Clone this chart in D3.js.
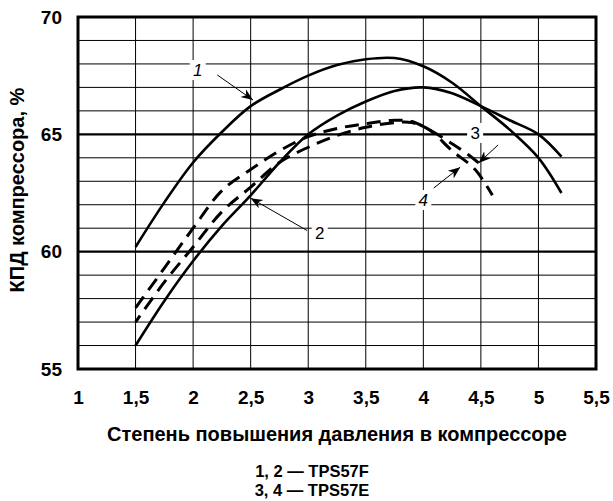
<!DOCTYPE html>
<html>
<head>
<meta charset="utf-8">
<script src="https://cdn.jsdelivr.net/npm/d3@7"></script>
<style>
  body { margin: 0; background: #fff; }
  text { font-family: "Liberation Sans", Arial, sans-serif; }
</style>
</head>
<body>
<div id="chart"></div>
<script>
// data
const xTicks = [1, 1.5, 2, 2.5, 3, 3.5, 4, 4.5, 5, 5.5];
const yTicks = [55, 60, 65, 70];

const x12 = [1.5, 1.75, 2, 2.25, 2.5, 2.75, 3, 3.25, 3.5, 3.75, 4, 4.25, 4.5, 4.75, 5, 5.2];
const curve1 = [60.2, 62.1, 63.8, 65.1, 66.2, 66.9, 67.5, 67.95, 68.2, 68.25, 67.9, 67.2, 66.2, 65.2, 64.0, 62.5];
const curve2 = [56.0, 57.9, 59.6, 61.1, 62.4, 63.8, 65.0, 65.8, 66.4, 66.85, 67.0, 66.75, 66.2, 65.6, 65.0, 64.05];

const x3 = [1.5, 1.75, 2, 2.25, 2.5, 2.75, 3, 3.25, 3.5, 3.75, 3.9, 4.05, 4.25, 4.4, 4.5];
const curve3 = [57.6, 59.3, 61.0, 62.6, 63.5, 64.3, 64.9, 65.25, 65.45, 65.6, 65.55, 65.2, 64.6, 64.1, 63.7];
const x4 = [1.5, 1.75, 2, 2.25, 2.5, 2.75, 3, 3.25, 3.5, 3.75, 3.9, 4.05, 4.25, 4.45, 4.6];
const curve4 = [57.0, 58.7, 60.2, 61.7, 62.75, 63.8, 64.45, 64.95, 65.3, 65.5, 65.5, 65.2, 64.3, 63.5, 62.4];

// curve labels: text, label position, arrow start, arrow end (data units)
const labels = [
  { t: "1", italic: true,  x: 2.04, y: 67.74, ax: 2.21, ay: 67.53, bx: 2.52, by: 66.46 },
  { t: "2", italic: false, x: 3.10, y: 60.8,  ax: 2.99, ay: 60.9,  bx: 2.50, by: 62.28 },
  { t: "3", italic: false, x: 4.45, y: 65.06, ax: 4.65, ay: 64.55, bx: 4.48, by: 63.78 },
  { t: "4", italic: true,  x: 4.00, y: 62.2,  ax: 4.09, ay: 62.71, bx: 4.32, by: 63.6 }
];

const legendLines = ["1, 2 \u2014 TPS57F", "3, 4 \u2014 TPS57E"];

// canvas
const W = 613, H = 501;
const margins = { top: 17, right: 17, bottom: 132, left: 78 };
const width = W - margins.left - margins.right;
const height = H - margins.top - margins.bottom;

const root = d3.select("#chart").append("svg")
    .attr("width", W)
    .attr("height", H);

root.append("defs").append("marker")
    .attr("id", "arr")
    .attr("viewBox", "0 0 10 10")
    .attr("refX", 10).attr("refY", 5)
    .attr("markerWidth", 12).attr("markerHeight", 12)
    .attr("markerUnits", "userSpaceOnUse")
    .attr("orient", "auto")
    .append("path")
    .attr("d", "M0,1 L10,5 L0,9 L3,5 Z")
    .attr("fill", "#000");

const svg = root.append("g")
    .attr("transform", "translate(" + margins.left + "," + margins.top + ")");

const xScale = d3.scaleLinear().domain([1, 5.5]).range([0, width]);
const yScale = d3.scaleLinear().domain([55, 70]).range([height, 0]);

// grid
svg.append("g")
    .selectAll("line")
    .data(d3.range(55, 71))
    .enter()
    .append("line")
    .attr("x1", 0).attr("x2", width)
    .attr("y1", d => yScale(d)).attr("y2", d => yScale(d))
    .attr("stroke", "#000")
    .attr("stroke-width", d => d % 5 === 0 ? 2.2 : 1);

svg.append("g")
    .selectAll("line")
    .data(xTicks)
    .enter()
    .append("line")
    .attr("x1", d => xScale(d)).attr("x2", d => xScale(d))
    .attr("y1", 0).attr("y2", height)
    .attr("stroke", "#000")
    .attr("stroke-width", 1);

svg.append("rect")
    .attr("width", width).attr("height", height)
    .attr("fill", "none")
    .attr("stroke", "#000")
    .attr("stroke-width", 3);

// axes
const fmt = d => String(d).replace(".", ",");

const xAxis = svg.append("g")
    .attr("transform", "translate(0," + height + ")")
    .call(d3.axisBottom(xScale).tickValues(xTicks).tickSize(0).tickPadding(22).tickFormat(fmt));

const yAxis = svg.append("g")
    .call(d3.axisLeft(yScale).tickValues(yTicks).tickSize(0).tickPadding(16).tickFormat(fmt));

[xAxis, yAxis].forEach(a => {
    a.select(".domain").remove();
    a.selectAll("text")
        .attr("font-family", "'Liberation Sans', Arial, sans-serif")
        .attr("font-size", 19)
        .attr("font-weight", "bold")
        .attr("fill", "#000");
});

// curves
const line = (xs) => d3.line()
    .x((d, i) => xScale(xs[i]))
    .y(d => yScale(d))
    .curve(d3.curveCatmullRom.alpha(0.5));

svg.append("path").datum(curve1)
    .attr("d", line(x12)).attr("fill", "none")
    .attr("stroke", "#000").attr("stroke-width", 2.6);

svg.append("path").datum(curve2)
    .attr("d", line(x12)).attr("fill", "none")
    .attr("stroke", "#000").attr("stroke-width", 2.6);

svg.append("path").datum(curve3)
    .attr("d", line(x3)).attr("fill", "none")
    .attr("stroke", "#000").attr("stroke-width", 3)
    .attr("stroke-dasharray", "14,8");

svg.append("path").datum(curve4)
    .attr("d", line(x4)).attr("fill", "none")
    .attr("stroke", "#000").attr("stroke-width", 3)
    .attr("stroke-dasharray", "14,8")
    .attr("stroke-dashoffset", 6);

// curve labels with arrows
labels.forEach(l => {
    svg.append("rect")
        .attr("x", xScale(l.x) - 8).attr("y", yScale(l.y) - 10)
        .attr("width", 16).attr("height", 20)
        .attr("fill", "#fff");
    svg.append("text")
        .attr("x", xScale(l.x)).attr("y", yScale(l.y) + 6)
        .attr("text-anchor", "middle")
        .attr("font-size", 17)
        .attr("font-style", l.italic ? "italic" : "normal")
        .text(l.t);
    svg.append("line")
        .attr("x1", xScale(l.ax)).attr("y1", yScale(l.ay))
        .attr("x2", xScale(l.bx)).attr("y2", yScale(l.by))
        .attr("stroke", "#000").attr("stroke-width", 1)
        .attr("marker-end", "url(#arr)");
});

// axis titles
svg.append("text")
    .attr("x", width / 2)
    .attr("y", height + 72)
    .attr("text-anchor", "middle")
    .attr("font-size", 20)
    .attr("font-weight", "bold")
    .text("Степень повышения давления в компрессоре");

svg.append("text")
    .attr("x", -height / 2 + 3)
    .attr("y", -54)
    .attr("transform", "rotate(-90)")
    .attr("text-anchor", "middle")
    .attr("font-size", 20)
    .attr("font-weight", "bold")
    .text("КПД компрессора, %");

// legend
svg.selectAll(".leg")
    .data(legendLines)
    .enter()
    .append("text")
    .attr("class", "leg")
    .attr("x", width / 2 - 25)
    .attr("y", (d, i) => height + 108 + i * 19)
    .attr("text-anchor", "middle")
    .attr("font-size", 16.5)
    .attr("font-weight", "bold")
    .text(d => d);
</script>
</body>
</html>
